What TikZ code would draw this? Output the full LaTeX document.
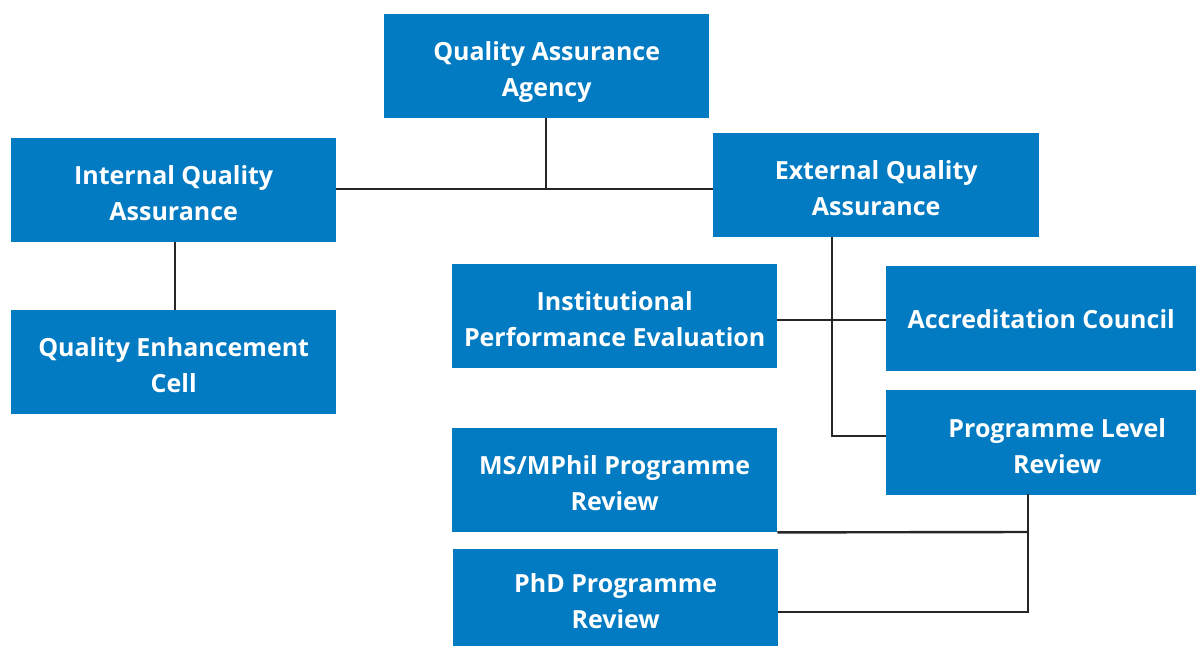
\documentclass[tikz,border=0pt]{standalone}
\usepackage{fontspec}
\setmainfont{Open Sans}
\definecolor{boxblue}{HTML}{027BC3}
\definecolor{linegray}{HTML}{262626}
\begin{document}
\begin{tikzpicture}[x=1pt,y=-1pt,
  box/.style={fill=boxblue,text=white,font=\fontsize{25}{36}\selectfont\bfseries,align=center,inner sep=0pt,anchor=north west},
  twoline/.style={box,text height=70pt,text depth=9pt},
  conn/.style={draw=linegray,line width=2.4pt}]
\useasboundingbox (0,0) rectangle (1196,646);
\node[twoline,minimum width=325pt,minimum height=104pt] (qaa) at (384,14) {Quality Assurance\\Agency};
\node[twoline,minimum width=325pt,minimum height=104pt] (iqa) at (11,138) {Internal Quality\\Assurance};
\node[twoline,minimum width=326pt,minimum height=104pt] (eqa) at (713,133) {External Quality\\Assurance};
\node[twoline,minimum width=325pt,minimum height=104pt] (qec) at (11,310) {Quality Enhancement\\Cell};
\node[twoline,minimum width=325pt,minimum height=104pt] (ipe) at (452,264) {Institutional\\Performance Evaluation};
\node[box,minimum width=310pt,minimum height=105pt] (ac) at (886,266) {Accreditation Council};
\node[twoline,minimum width=310pt,minimum height=105pt] (plr) at (886,390) {\hspace*{32pt}Programme Level\\\hspace*{32pt}Review};
\node[twoline,minimum width=325pt,minimum height=104pt] (ms) at (452,428) {MS/MPhil Programme\\Review};
\node[twoline,minimum width=325pt,minimum height=97pt] (phd) at (453,549) {PhD Programme\\Review};
\coordinate (hub) at (546,189);
\coordinate (eqadown) at (832,237);
\coordinate (plrdown) at (1028,494);
\draw[conn] (iqa.east |- hub) -- (eqa.west |- hub);
\draw[conn] (qaa.south -| hub) -- (hub);
\draw[conn] (175,242) -- (175,310);
\draw[conn] (eqadown) -- (832,436) -- (plr.west |- 0,436);
\draw[conn] (ipe.east |- 0,320) -- (ac.west |- 0,320);
\draw[conn] (plrdown) -- (1028,612) -- (phd.east |- 0,612);
\draw[conn] (ms.south east) -- (1028,532);
\end{tikzpicture}
\end{document}
